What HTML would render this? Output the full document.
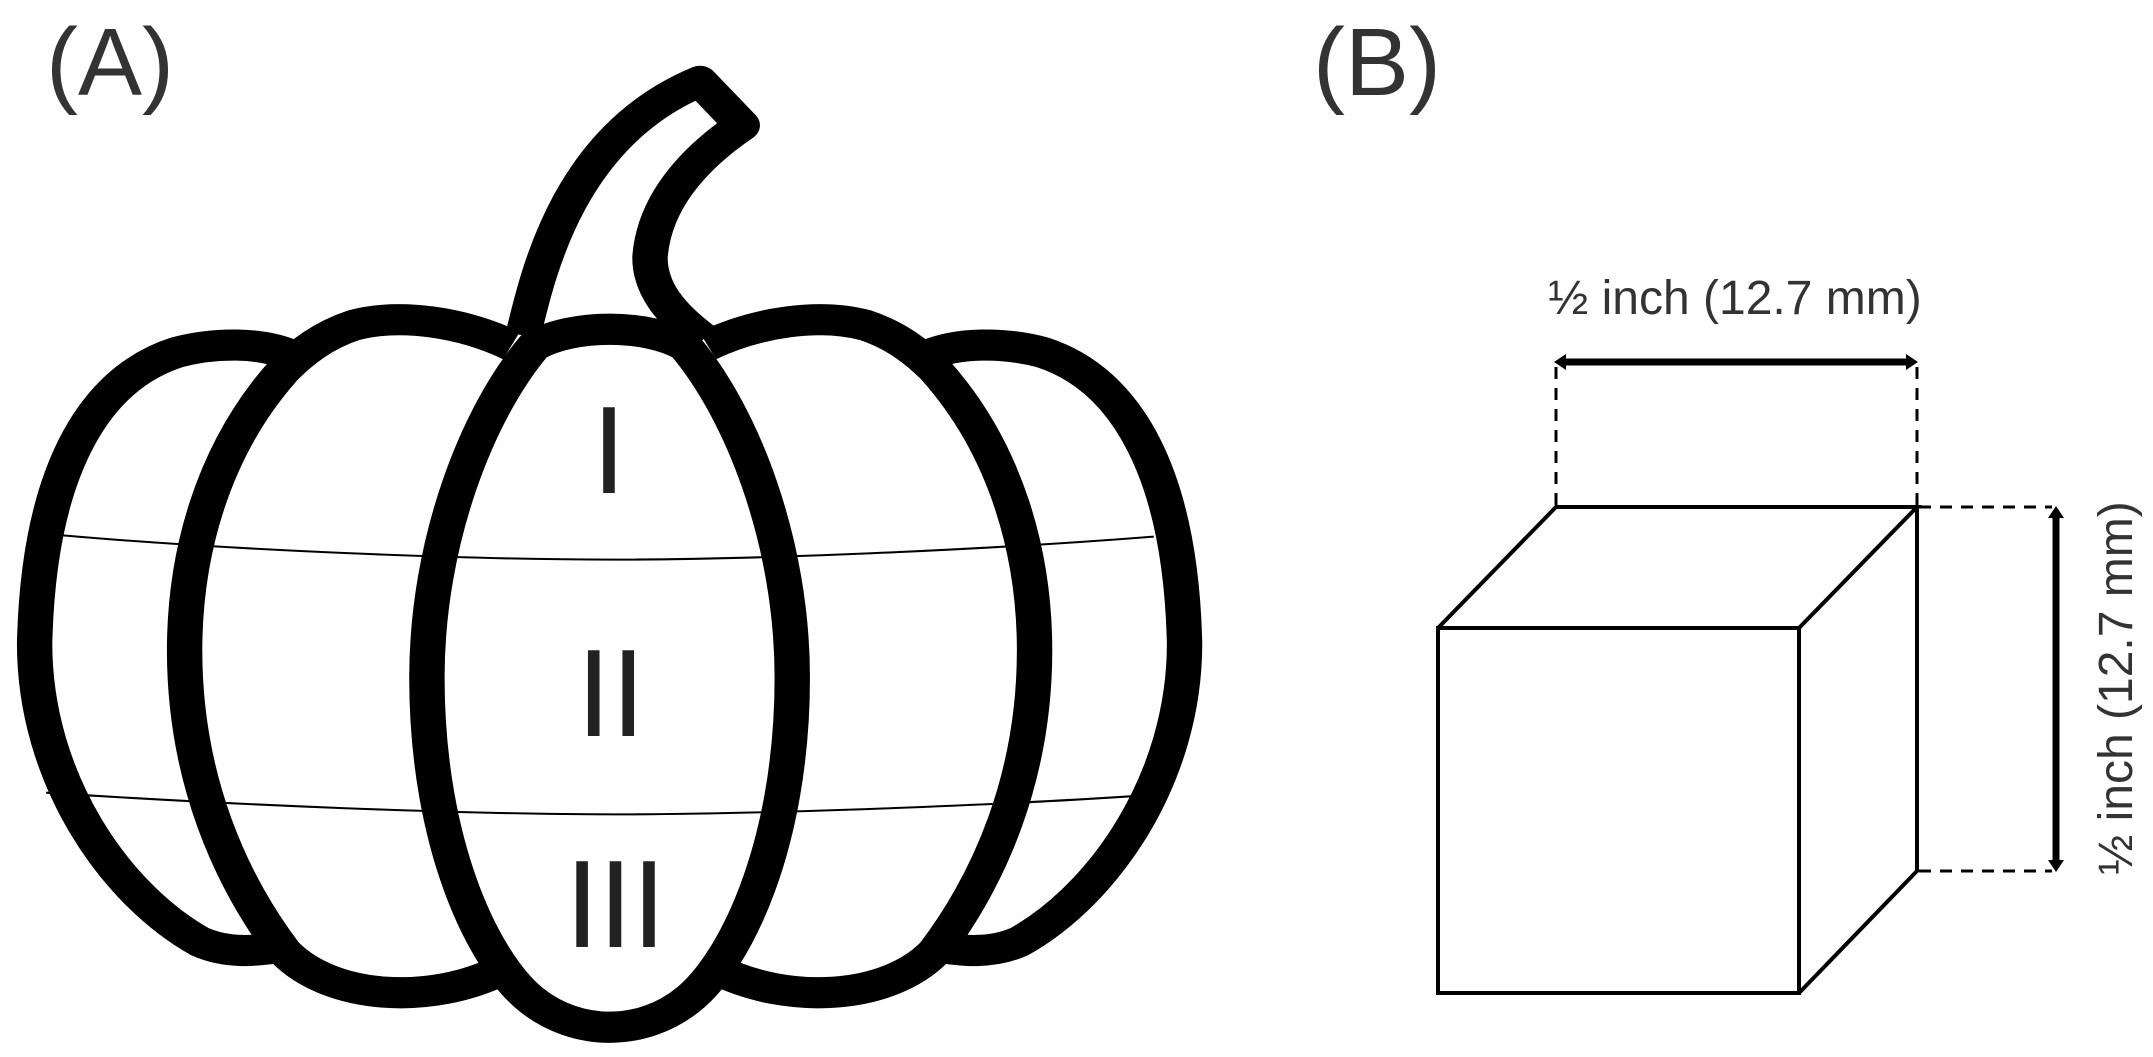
<!DOCTYPE html>
<html><head><meta charset="utf-8"><style>html,body{margin:0;padding:0;background:#fff;overflow:hidden}svg{display:block}</style></head>
<body>
<svg width="2153" height="1057" viewBox="0 0 2153 1057" xmlns="http://www.w3.org/2000/svg">
<rect width="2153" height="1057" fill="#fff"/>
<text x="46" y="95" font-family="Liberation Sans, sans-serif" font-size="96" fill="#333">(A)</text>
<g transform="scale(0.7692,0.6775)">
  <g stroke="#000" stroke-width="46" fill="#fff" stroke-linejoin="round">
    <path d="M680,495 C700,400 740,200 910,120 L965,185 C900,235 850,300 845,380 C845,425 870,462 915,500"/>
    <path d="M380,525 C340,505 280,505 230,520 C120,560 50,700 45,950 C45,1150 150,1320 260,1390 C300,1410 340,1402 365,1398"/>
    <g transform="translate(1585,0) scale(-1,1)">
      <path d="M380,525 C340,505 280,505 230,520 C120,560 50,700 45,950 C45,1150 150,1320 260,1390 C300,1410 340,1402 365,1398"/>
    </g>
    <path d="M665,510 C600,475 520,462 460,480 C420,495 392,520 370,545 C275,665 240,820 240,960 C240,1150 300,1300 370,1405 C430,1475 560,1485 655,1430"/>
    <g transform="translate(1585,0) scale(-1,1)">
      <path d="M665,510 C600,475 520,462 460,480 C420,495 392,520 370,545 C275,665 240,820 240,960 C240,1150 300,1300 370,1405 C430,1475 560,1485 655,1430"/>
    </g>
    <path d="M695,510 C620,610 555,800 555,1000 C555,1250 630,1420 690,1475 C750,1530 835,1530 895,1475 C955,1420 1030,1250 1030,1000 C1030,800 965,610 890,510 C840,478 745,478 695,510 Z"/>
  </g>
  <g stroke="#000" stroke-width="3" fill="none">
    <path d="M80,790 C300,812 600,826 800,826 C1000,826 1300,810 1500,792"/>
    <path d="M60,1170 C300,1188 600,1202 800,1202 C1000,1202 1300,1188 1475,1175"/>
  </g>
</g>
<g font-family="Liberation Sans, sans-serif" font-size="124" fill="#222" text-anchor="middle">
  <text x="609" y="493">I</text>
  <text x="611" y="736">II</text>
  <text x="615" y="947" letter-spacing="-1">III</text>
</g>
<text x="1313" y="95" font-family="Liberation Sans, sans-serif" font-size="96" fill="#333">(B)</text>
<text x="1735" y="314" text-anchor="middle" font-family="Liberation Sans, sans-serif" font-size="48" fill="#333">½ inch (12.7 mm)</text>
<g stroke="#000" fill="none" stroke-width="4" stroke-linejoin="miter">
  <rect x="1438" y="628" width="361" height="365"/>
  <path d="M1438,628 L1556,507 L1917,507 L1799,628 M1917,507 L1917,871 L1799,993"/>
</g>
<g stroke="#000" stroke-width="3" stroke-dasharray="12,9" fill="none">
  <path d="M1556,505 L1556,365 M1917,505 L1917,365 M1919,507 L2052,507 M1919,871 L2052,871"/>
</g>
<g stroke="#000" stroke-width="7" fill="#000">
  <line x1="1562" y1="362" x2="1910" y2="362"/>
  <line x1="2056" y1="514" x2="2056" y2="864"/>
</g>
<g fill="#000">
  <polygon points="1554,362 1566,354 1566,370"/>
  <polygon points="1918,362 1906,354 1906,370"/>
  <polygon points="2056,506 2048,518 2064,518"/>
  <polygon points="2056,872 2048,860 2064,860"/>
</g>
<text transform="translate(2132,688) rotate(-90)" text-anchor="middle" font-family="Liberation Sans, sans-serif" font-size="48" fill="#333">½ inch (12.7 mm)</text>
</svg>
</body></html>
